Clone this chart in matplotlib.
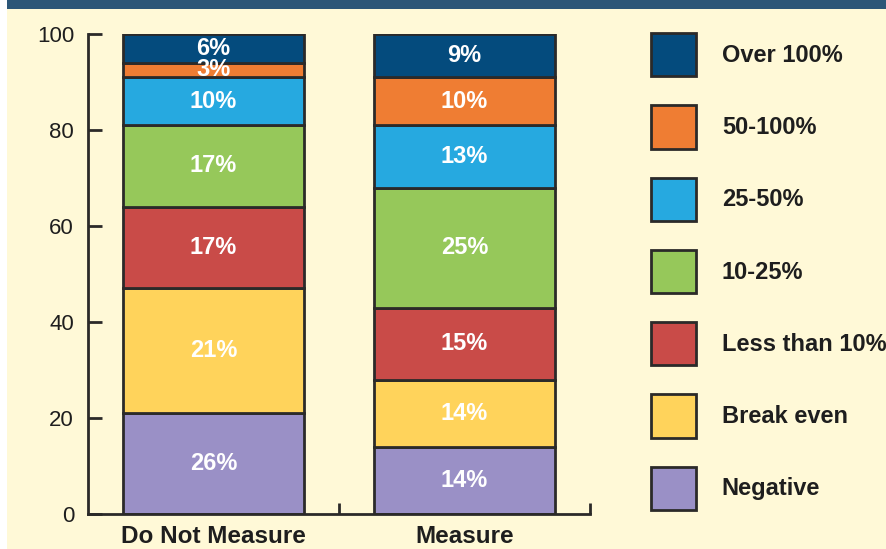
import numpy as np
import matplotlib.pyplot as plt
from matplotlib.patches import Rectangle

plt.rcParams['font.family'] = ['Liberation Sans', 'DejaVu Sans']

groups = ["Do Not Measure", "Measure"]
segments = ["Negative", "Break even", "Less than 10%", "10-25%", "25-50%", "50-100%", "Over 100%"]
colors = ["#9A90C6", "#FFD35B", "#C94B48", "#96C85A", "#26A9E0", "#EF7D33", "#044B7D"]

# segment heights as drawn
dnm_heights = [21, 26, 17, 17, 10, 3, 6]
m_heights = [14, 14, 15, 25, 13, 10, 9]
# printed labels
dnm_labels = ["26%", "21%", "17%", "17%", "10%", "3%", "6%"]
m_labels = ["14%", "14%", "15%", "25%", "13%", "10%", "9%"]

heights = np.array([dnm_heights, m_heights])
labels = [dnm_labels, m_labels]

edge = "#2B2A29"
txt = "#1E1E1E"

fig = plt.figure(figsize=(8.87, 5.49), dpi=100)
fig.patch.set_facecolor("white")
fig.patches.append(Rectangle((7 / 887, 0), 1, 1, transform=fig.transFigure,
                             facecolor="#FFF9D7", edgecolor="none", zorder=-10))
fig.patches.append(Rectangle((7 / 887, 1 - 9 / 549), 1, 9 / 549, transform=fig.transFigure,
                             facecolor="#2C5677", edgecolor="none", zorder=-9))

ax = fig.add_axes([88 / 887, 35 / 549, 502 / 887, 480 / 549])
ax.set_facecolor("none")

x = np.arange(len(groups))
bottom = np.zeros(len(groups))
handles = []
for i, seg in enumerate(segments):
    h = heights[:, i]
    b = ax.bar(x, h, width=0.72, bottom=bottom, color=colors[i], edgecolor=edge,
               linewidth=2, label=seg)
    handles.append(b)
    for j in range(len(groups)):
        ax.text(x[j], bottom[j] + h[j] / 2, labels[j][i], ha="center", va="center",
                color="white", fontsize=17, fontweight="bold")
    bottom += h

ax.set_xlim(-0.5, 1.5)
ax.set_ylim(0, 100)
ax.set_yticks([0, 20, 40, 60, 80, 100])
ax.tick_params(axis="y", direction="in", length=10, width=2, color=edge,
               labelsize=16, labelcolor=txt, pad=10)
ax.set_xticks(x)
ax.set_xticklabels(groups, fontsize=17.5, fontweight="bold", color=txt)
ax.set_xticks([0.5, 1.5], minor=True)
ax.tick_params(axis="x", which="major", length=0, pad=8)
ax.tick_params(axis="x", which="minor", direction="in", length=8, width=2, color=edge)
for s in ["top", "right"]:
    ax.spines[s].set_visible(False)
for s in ["left", "bottom"]:
    ax.spines[s].set_linewidth(2)
    ax.spines[s].set_color(edge)

leg = fig.legend(handles[::-1], segments[::-1], loc="upper left",
                 bbox_to_anchor=(651 / 887, 1 - 33 / 549), frameon=False,
                 prop={"weight": "bold", "size": 17}, handlelength=1.9, handleheight=2.44,
                 labelspacing=1.23, handletextpad=1.1, borderpad=0, borderaxespad=0)
for t in leg.get_texts():
    t.set_color(txt)

fig.savefig("out.png", dpi=100)
